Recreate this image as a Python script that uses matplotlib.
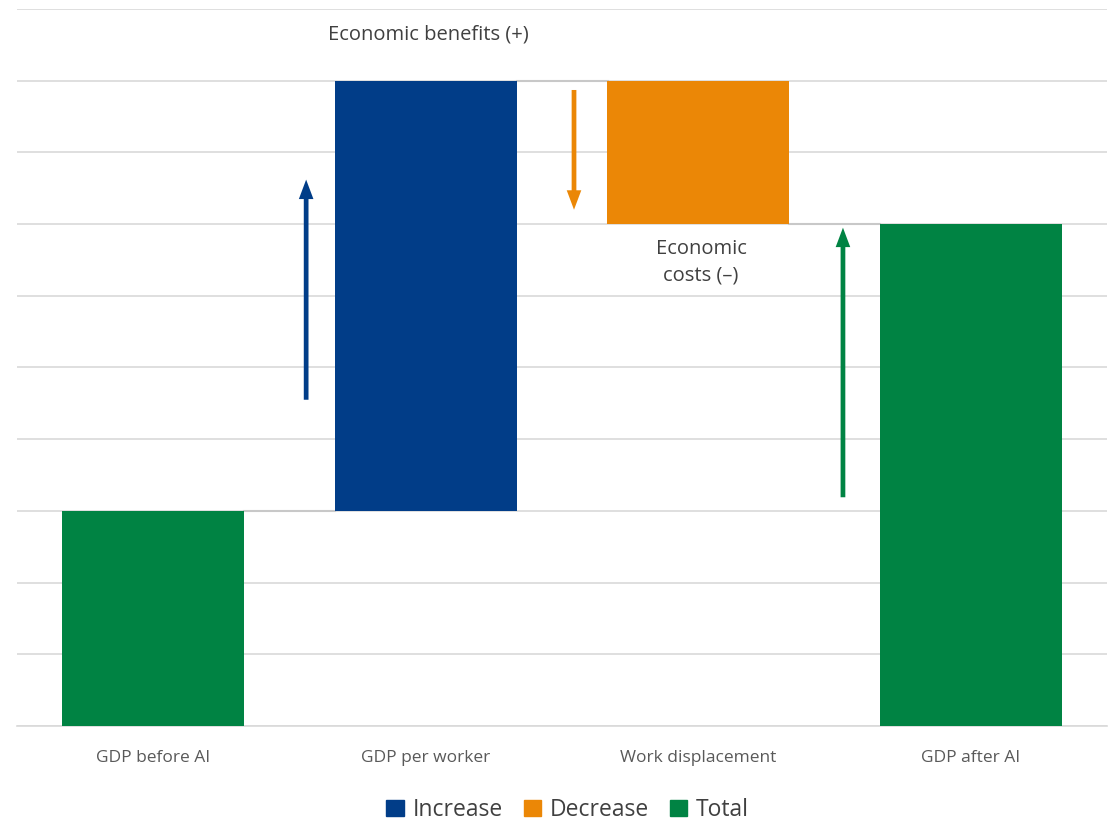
import matplotlib.pyplot as plt
from matplotlib.patches import Patch

plt.rcParams['font.family'] = ['Open Sans', 'DejaVu Sans']

# data
categories = ['GDP before AI', 'GDP per worker', 'Work displacement', 'GDP after AI']
bar_bottom = [0, 3, 7, 0]
bar_height = [3, 6, 2, 7]
bar_kind = ['Total', 'Increase', 'Decrease', 'Total']

# arrows: x position, start value, end value
arrow_x = [0.561, 1.544, 2.531]
arrow_start = [4.55, 8.87, 3.19]
arrow_end = [7.62, 7.2, 6.95]
arrow_kind = ['Increase', 'Decrease', 'Total']

colors = {'Increase': '#013d88', 'Decrease': '#eb8706', 'Total': '#008343'}
grid_color = '#d9d9d9'
text_color = '#404040'

fig = plt.figure(figsize=(11.2, 8.22), dpi=100)
ax = fig.add_axes([0.0152, 0.1168, 0.9732, 0.8723])

x = list(range(len(categories)))
ax.bar(x, bar_height, bottom=bar_bottom, width=0.667,
       color=[colors[k] for k in bar_kind], zorder=3)

# connector lines between bars
tops = [b + h for b, h in zip(bar_bottom, bar_height)]
levels = [tops[0], tops[1], bar_bottom[2]]
for i, lev in enumerate(levels):
    ax.plot([i + 0.333, i + 1 - 0.333], [lev, lev], color='#c8c8c8', lw=1.5, zorder=2)

# arrows
for ax_x, y0, y1, k in zip(arrow_x, arrow_start, arrow_end, arrow_kind):
    ax.annotate('', xy=(ax_x, y1), xytext=(ax_x, y0),
                arrowprops=dict(width=3.4, headwidth=10.5, headlength=14, shrink=0,
                                color=colors[k], lw=0),
                zorder=4)

# annotations
ax.text(1.01, 9.65, 'Economic benefits (+)', ha='center', va='center',
        fontsize=14.5, color=text_color)
ax.text(2.01, 6.47, 'Economic\ncosts (\u2013)', ha='center', va='center',
        fontsize=14.5, color=text_color, linespacing=1.4)

ax.set_xlim(-0.5, 3.5)
ax.set_ylim(0, 10)
ax.set_yticks(range(0, 11))
ax.set_yticklabels([])
ax.tick_params(axis='y', length=0)
ax.grid(axis='y', color=grid_color, lw=1.2, zorder=0)
ax.set_axisbelow(True)

ax.set_xticks(x)
ax.set_xticklabels(categories, fontsize=12.5, color='#595959')
ax.tick_params(axis='x', length=0, pad=17)

for s in ['top', 'right', 'left']:
    ax.spines[s].set_visible(False)
ax.spines['bottom'].set_color(grid_color)
ax.spines['bottom'].set_linewidth(1.2)

handles = [Patch(color=colors[k], label=k) for k in ['Increase', 'Decrease', 'Total']]
fig.legend(handles=handles, loc='center', bbox_to_anchor=(0.507, 0.0146), ncol=3,
           frameon=False, fontsize=16.5, handlelength=0.75, handleheight=0.75,
           handletextpad=0.4, columnspacing=0.9, labelcolor='#404040')

plt.savefig('out.png', dpi=100)
